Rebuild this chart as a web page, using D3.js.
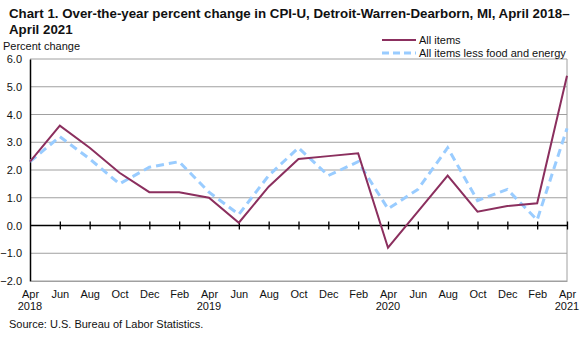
<!DOCTYPE html>
<html>
<head>
<meta charset="utf-8">
<script src="https://cdn.jsdelivr.net/npm/d3@7"></script>
<style>
  body { margin: 0; background: #fff; }
  svg { display: block; font-family: Arial, "Liberation Sans", sans-serif; }
</style>
</head>
<body>
<script>
var width  = 588
var height = 337
var margin = { top: 59, bottom: 56, left: 30, right: 21 }

// bimonthly observations, April 2018 through April 2021
var months = ['Apr','Jun','Aug','Oct','Dec','Feb','Apr','Jun','Aug','Oct','Dec','Feb','Apr','Jun','Aug','Oct','Dec','Feb','Apr']
var years  = ['2018','','','','','','2019','','','','','','2020','','','','','','2021']
var allItems = [2.3, 3.6, 2.8, 1.9, 1.2, 1.2, 1.0, 0.1, 1.4, 2.4, 2.5, 2.6, -0.8, 0.5, 1.8, 0.5, 0.7, 0.8, 5.4]
var coreItems = [2.3, 3.2, 2.4, 1.5, 2.1, 2.3, 1.2, 0.4, 1.8, 2.8, 1.8, 2.3, 0.6, 1.3, 2.8, 0.9, 1.3, 0.2, 3.5]
var yTicks = [-2, -1, 0, 1, 2, 3, 4, 5, 6]

var series = [
  { name: 'All items', values: allItems, color: '#8b2f5e', dash: null, width: 2 },
  { name: 'All items less food and energy', values: coreItems, color: '#99ccff', dash: '8,5', width: 3 }
]

var svg = d3.select('body')
  .append('svg')
  .attr('width', width)
  .attr('height', height)

var xScale = d3.scaleLinear()
  .domain([0, months.length - 1])
  .range([margin.left, width - margin.right])

var yScale = d3.scaleLinear()
  .domain([-2, 6])
  .range([height - margin.bottom, margin.top])

// title
svg.append('text')
  .attr('x', 9).attr('y', 18)
  .attr('font-size', 13.3).attr('font-weight', 'bold').attr('fill', '#111')
  .text('Chart 1. Over-the-year percent change in CPI-U, Detroit-Warren-Dearborn, MI, April 2018\u2013')
svg.append('text')
  .attr('x', 9).attr('y', 34)
  .attr('font-size', 13.3).attr('font-weight', 'bold').attr('fill', '#111')
  .text('April 2021')

svg.append('text')
  .attr('x', 3).attr('y', 50)
  .attr('font-size', 11).attr('fill', '#111')
  .text('Percent change')

// horizontal gridlines
svg.append('g')
  .selectAll('line')
  .data(yTicks.filter(d => d !== 0))
  .enter().append('line')
  .attr('x1', margin.left).attr('x2', width - margin.right)
  .attr('y1', d => yScale(d)).attr('y2', d => yScale(d))
  .attr('stroke', '#a0a0a0').attr('stroke-width', 1)

// right border
svg.append('line')
  .attr('x1', width - margin.right).attr('x2', width - margin.right)
  .attr('y1', yScale(6)).attr('y2', yScale(-2))
  .attr('stroke', '#a0a0a0')

// y axis
var yAxis = d3.axisLeft(yScale)
  .tickValues(yTicks)
  .tickSize(0)
  .tickPadding(8)
  .tickFormat(d3.format('.1f'))

var yG = svg.append('g')
  .attr('transform', 'translate(' + [margin.left, 0] + ')')
  .call(yAxis)
yG.select('.domain').attr('stroke', '#000').attr('stroke-width', 1.5)
yG.selectAll('text').attr('font-size', 11).attr('fill', '#111').attr('font-family', 'Arial, "Liberation Sans", sans-serif')

// zero line with crossing ticks
var zeroAxis = d3.axisBottom(xScale)
  .tickValues(d3.range(1, months.length))
  .tickSizeInner(8)
  .tickSizeOuter(0)
  .tickFormat('')
var zG = svg.append('g')
  .attr('transform', 'translate(' + [0, yScale(0) - 4] + ')')
  .call(zeroAxis)
zG.select('.domain').remove()
zG.selectAll('line').attr('stroke', '#000').attr('stroke-width', 1.3)
svg.append('line')
  .attr('x1', margin.left).attr('x2', width - margin.right)
  .attr('y1', yScale(0)).attr('y2', yScale(0))
  .attr('stroke', '#000').attr('stroke-width', 1.5)

// x labels
var xG = svg.append('g')
  .attr('transform', 'translate(' + [0, height - margin.bottom] + ')')
  .call(d3.axisBottom(xScale)
    .tickValues(d3.range(months.length))
    .tickSize(0)
    .tickPadding(9)
    .tickFormat(i => months[i]))
xG.select('.domain').attr('stroke', '#a0a0a0')
xG.selectAll('text').attr('font-size', 11).attr('fill', '#111').attr('font-family', 'Arial, "Liberation Sans", sans-serif')

svg.append('g')
  .selectAll('text')
  .data(years)
  .enter().append('text')
  .attr('x', (d, i) => xScale(i))
  .attr('y', height - margin.bottom + 29)
  .attr('text-anchor', 'middle')
  .attr('font-size', 11).attr('fill', '#111')
  .text(d => d)

// lines
var line = d3.line()
  .x((d, i) => xScale(i))
  .y(d => yScale(d))

svg.append('g')
  .selectAll('path')
  .data(series.slice().reverse())
  .enter().append('path')
  .attr('d', d => line(d.values))
  .attr('fill', 'none')
  .attr('stroke', d => d.color)
  .attr('stroke-width', d => d.width)
  .attr('stroke-dasharray', d => d.dash)

// legend
var legend = svg.append('g')
  .selectAll('g')
  .data(series)
  .enter().append('g')
  .attr('transform', (d, i) => 'translate(' + [382, 40 + i * 13] + ')')

legend.append('line')
  .attr('x1', 0).attr('x2', 34)
  .attr('stroke', d => d.color)
  .attr('stroke-width', d => d.width)
  .attr('stroke-dasharray', d => d.dash ? '7,4' : null)

legend.append('text')
  .attr('x', 37).attr('y', 4)
  .attr('font-size', 11).attr('fill', '#111')
  .text(d => d.name)

// source note
svg.append('text')
  .attr('x', 9).attr('y', 328)
  .attr('font-size', 11).attr('fill', '#111')
  .text('Source: U.S. Bureau of Labor Statistics.')
</script>
</body>
</html>
